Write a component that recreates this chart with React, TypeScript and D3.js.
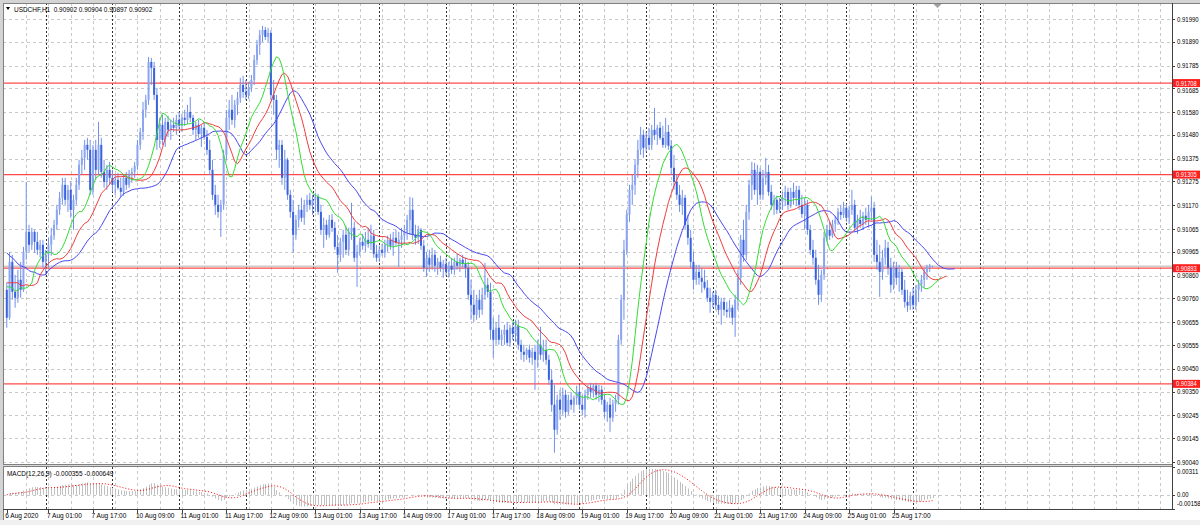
import React from 'react';
import * as d3 from 'd3';

// ---------- DATA (USDCHF H1, 6 Aug 2020 10:00 .. 26 Aug 2020 07:00) ----------
const opens = [
0.90798,0.90675,0.90921,0.90789,0.90763,0.90842,0.90798,0.90965,0.91053,0.90996,
0.91053,0.91009,0.90974,0.90996,0.90921,0.90952,0.90996,0.91036,0.91084,0.91150,
0.91203,0.91260,0.91194,0.91238,0.91150,0.91194,0.91260,0.91348,0.91379,0.91436,
0.91414,0.91238,0.91414,0.91326,0.91436,0.91317,0.91273,0.91326,0.91291,0.91260,
0.91282,0.91247,0.91229,0.91291,0.91260,0.91304,0.91317,0.91344,0.91436,0.91493,
0.91590,0.91634,0.91801,0.91775,0.91656,0.91458,0.91524,0.91458,0.91537,0.91502,
0.91524,0.91511,0.91546,0.91520,0.91555,0.91546,0.91581,0.91555,0.91502,0.91524,
0.91484,0.91511,0.91471,0.91414,0.91326,0.91216,0.91172,0.91141,0.91172,0.91392,
0.91555,0.91590,0.91546,0.91612,0.91643,0.91700,0.91669,0.91656,0.91687,0.91722,
0.91810,0.91876,0.91920,0.91942,0.91911,0.91929,0.91656,0.91634,0.91414,0.91436,
0.91291,0.91370,0.91216,0.91141,0.91040,0.91106,0.91150,0.91115,0.91172,0.91194,
0.91172,0.91194,0.91207,0.91141,0.91062,0.91084,0.91040,0.91106,0.91071,0.90987,
0.90952,0.91009,0.91040,0.90974,0.91053,0.91071,0.90939,0.90965,0.91009,0.90992,
0.91018,0.91000,0.91036,0.90956,0.90939,0.90974,0.90961,0.90996,0.91018,0.90992,
0.91027,0.91005,0.91018,0.91036,0.91053,0.91106,0.91150,0.91040,0.91027,0.91062,
0.90992,0.90895,0.90939,0.90908,0.90952,0.90904,0.90921,0.90895,0.90912,0.90877,
0.90904,0.90886,0.90921,0.90904,0.90930,0.90912,0.90895,0.90776,0.90732,0.90688,
0.90754,0.90710,0.90776,0.90820,0.90789,0.90622,0.90578,0.90631,0.90578,0.90600,
0.90622,0.90565,0.90631,0.90604,0.90640,0.90556,0.90525,0.90512,0.90534,0.90499,
0.90525,0.90490,0.90556,0.90512,0.90534,0.90490,0.90402,0.90292,0.90182,0.90314,
0.90270,0.90336,0.90261,0.90314,0.90292,0.90323,0.90349,0.90292,0.90270,0.90336,
0.90367,0.90349,0.90376,0.90336,0.90358,0.90314,0.90261,0.90292,0.90235,0.90296,
0.90314,0.90578,0.90754,0.90974,0.91128,0.91238,0.91260,0.91348,0.91414,0.91480,
0.91423,0.91467,0.91436,0.91502,0.91480,0.91511,0.91467,0.91436,0.91493,0.91432,
0.91335,0.91273,0.91216,0.91172,0.91203,0.91084,0.91027,0.90921,0.90842,0.90877,
0.90851,0.90833,0.90807,0.90763,0.90745,0.90776,0.90732,0.90710,0.90745,0.90710,
0.90701,0.90719,0.90675,0.90754,0.90851,0.91018,0.90952,0.91141,0.91260,0.91326,
0.91238,0.91317,0.91216,0.91291,0.91317,0.91229,0.91172,0.91194,0.91150,0.91185,
0.91203,0.91229,0.91172,0.91229,0.91203,0.91238,0.91172,0.91132,0.91172,0.91062,
0.90974,0.90939,0.90842,0.90776,0.90864,0.91027,0.91062,0.91036,0.91088,0.91106,
0.91141,0.91128,0.91159,0.91115,0.91150,0.91172,0.91071,0.91106,0.91088,0.91124,
0.91106,0.91141,0.91159,0.90952,0.90921,0.90877,0.90939,0.90983,0.90895,0.90820,
0.90895,0.90851,0.90877,0.90798,0.90745,0.90728,0.90772,0.90732,0.90798,0.90820,
0.90842,0.90877,0.90895,0.90902
];
const highs = [
0.90829,0.90965,0.90952,0.90864,0.90886,0.90921,0.90987,0.91273,0.91084,0.91071,
0.91062,0.91053,0.91018,0.91018,0.90974,0.91027,0.91071,0.91106,0.91172,0.91229,
0.91291,0.91291,0.91260,0.91273,0.91216,0.91291,0.91370,0.91414,0.91458,0.91467,
0.91458,0.91436,0.91458,0.91537,0.91467,0.91370,0.91348,0.91361,0.91326,0.91304,
0.91313,0.91291,0.91304,0.91317,0.91326,0.91335,0.91361,0.91458,0.91511,0.91625,
0.91656,0.91823,0.91819,0.91801,0.91687,0.91555,0.91568,0.91555,0.91564,0.91546,
0.91555,0.91568,0.91581,0.91572,0.91590,0.91612,0.91647,0.91568,0.91537,0.91546,
0.91524,0.91537,0.91502,0.91458,0.91370,0.91260,0.91216,0.91194,0.91414,0.91590,
0.91634,0.91656,0.91634,0.91669,0.91731,0.91740,0.91722,0.91713,0.91744,0.91832,
0.91898,0.91942,0.91960,0.91955,0.91951,0.91942,0.91722,0.91656,0.91458,0.91458,
0.91414,0.91379,0.91238,0.91194,0.91128,0.91172,0.91203,0.91194,0.91216,0.91225,
0.91216,0.91225,0.91220,0.91172,0.91115,0.91106,0.91128,0.91132,0.91097,0.91040,
0.91027,0.91062,0.91080,0.91071,0.91181,0.91097,0.90996,0.91027,0.91044,0.91053,
0.91071,0.91084,0.91062,0.90996,0.90992,0.91000,0.91018,0.91036,0.91044,0.91053,
0.91062,0.91053,0.91071,0.91084,0.91128,0.91207,0.91203,0.91084,0.91080,0.91071,
0.91018,0.90965,0.90974,0.90983,0.90974,0.90939,0.90948,0.90930,0.90939,0.90921,
0.90939,0.90939,0.90956,0.90939,0.90952,0.90939,0.90921,0.90842,0.90798,0.90776,
0.90798,0.90807,0.90917,0.90851,0.90829,0.90675,0.90657,0.90688,0.90622,0.90644,
0.90657,0.90644,0.90657,0.90666,0.90666,0.90578,0.90556,0.90543,0.90556,0.90543,
0.90556,0.90578,0.90635,0.90578,0.90578,0.90512,0.90446,0.90380,0.90336,0.90358,
0.90367,0.90358,0.90336,0.90349,0.90332,0.90376,0.90380,0.90336,0.90358,0.90380,
0.90389,0.90384,0.90389,0.90380,0.90376,0.90336,0.90305,0.90323,0.90314,0.90336,
0.90600,0.90776,0.91018,0.91150,0.91260,0.91304,0.91370,0.91458,0.91515,0.91502,
0.91493,0.91511,0.91524,0.91599,0.91524,0.91537,0.91520,0.91555,0.91524,0.91458,
0.91392,0.91304,0.91260,0.91238,0.91216,0.91128,0.91062,0.90965,0.90908,0.90908,
0.90895,0.90886,0.90842,0.90807,0.90789,0.90798,0.90772,0.90763,0.90763,0.90745,
0.90754,0.90732,0.90776,0.90886,0.91040,0.91106,0.91172,0.91282,0.91361,0.91357,
0.91348,0.91335,0.91326,0.91379,0.91348,0.91260,0.91216,0.91212,0.91203,0.91229,
0.91256,0.91247,0.91247,0.91269,0.91256,0.91256,0.91216,0.91203,0.91194,0.91084,
0.91018,0.90974,0.90908,0.90886,0.91053,0.91084,0.91097,0.91106,0.91124,0.91159,
0.91172,0.91185,0.91176,0.91168,0.91238,0.91194,0.91128,0.91150,0.91141,0.91159,
0.91172,0.91207,0.91185,0.91018,0.90996,0.90974,0.91018,0.91009,0.90939,0.90921,
0.90921,0.90908,0.90895,0.90842,0.90798,0.90789,0.90807,0.90820,0.90842,0.90864,
0.90895,0.90908,0.90912,0.90904
];
const lows = [
0.90631,0.90666,0.90754,0.90719,0.90741,0.90763,0.90789,0.90930,0.90965,0.90974,
0.90961,0.90952,0.90939,0.90895,0.90864,0.90895,0.90948,0.91018,0.91062,0.91128,
0.91172,0.91172,0.91141,0.91115,0.91062,0.91172,0.91238,0.91304,0.91326,0.91370,
0.91216,0.91216,0.91282,0.91304,0.91291,0.91247,0.91238,0.91260,0.91229,0.91216,
0.91238,0.91207,0.91212,0.91238,0.91247,0.91269,0.91291,0.91326,0.91414,0.91458,
0.91555,0.91612,0.91700,0.91634,0.91414,0.91423,0.91436,0.91427,0.91471,0.91458,
0.91493,0.91480,0.91502,0.91493,0.91520,0.91528,0.91537,0.91480,0.91458,0.91467,
0.91427,0.91458,0.91392,0.91304,0.91194,0.91128,0.91115,0.91031,0.91150,0.91370,
0.91502,0.91524,0.91511,0.91568,0.91621,0.91643,0.91634,0.91638,0.91669,0.91700,
0.91788,0.91832,0.91889,0.91898,0.91889,0.91634,0.91568,0.91370,0.91335,0.91260,
0.91238,0.91194,0.91115,0.90961,0.91018,0.91071,0.91097,0.91084,0.91141,0.91150,
0.91128,0.91141,0.91128,0.91040,0.90983,0.91018,0.91027,0.91053,0.90974,0.90873,
0.90921,0.90939,0.90952,0.90948,0.91018,0.90921,0.90811,0.90948,0.90974,0.90965,
0.90983,0.90974,0.90939,0.90921,0.90921,0.90948,0.90939,0.90965,0.90974,0.90948,
0.90992,0.90899,0.90983,0.91000,0.91018,0.91040,0.91018,0.90996,0.91000,0.90974,
0.90877,0.90855,0.90877,0.90886,0.90877,0.90864,0.90877,0.90851,0.90860,0.90851,
0.90868,0.90864,0.90886,0.90877,0.90895,0.90851,0.90754,0.90666,0.90657,0.90666,
0.90675,0.90688,0.90754,0.90763,0.90578,0.90499,0.90556,0.90556,0.90552,0.90556,
0.90552,0.90547,0.90578,0.90569,0.90534,0.90490,0.90481,0.90490,0.90477,0.90468,
0.90358,0.90455,0.90490,0.90481,0.90468,0.90380,0.90261,0.90081,0.90160,0.90226,
0.90248,0.90235,0.90248,0.90270,0.90257,0.90292,0.90270,0.90244,0.90235,0.90314,
0.90323,0.90323,0.90314,0.90305,0.90292,0.90235,0.90217,0.90173,0.90217,0.90261,
0.90292,0.90556,0.90666,0.90952,0.91097,0.91172,0.91216,0.91291,0.91392,0.91379,
0.91405,0.91414,0.91414,0.91458,0.91436,0.91458,0.91423,0.91423,0.91414,0.91304,
0.91238,0.91194,0.91141,0.91128,0.91062,0.90996,0.90895,0.90798,0.90820,0.90820,
0.90785,0.90798,0.90745,0.90697,0.90719,0.90710,0.90688,0.90644,0.90684,0.90675,
0.90675,0.90644,0.90591,0.90710,0.90820,0.90921,0.90930,0.91106,0.91194,0.91216,
0.91172,0.91194,0.91194,0.91260,0.91212,0.91150,0.91128,0.91132,0.91137,0.91150,
0.91168,0.91150,0.91159,0.91172,0.91168,0.91150,0.91115,0.91062,0.91040,0.90952,
0.90908,0.90820,0.90732,0.90745,0.90842,0.91009,0.91018,0.91027,0.91053,0.91084,
0.91106,0.91115,0.91097,0.91088,0.91128,0.91053,0.91044,0.91071,0.91062,0.91084,
0.91071,0.91106,0.90921,0.90886,0.90767,0.90842,0.90908,0.90864,0.90785,0.90798,
0.90820,0.90789,0.90776,0.90719,0.90701,0.90710,0.90710,0.90710,0.90745,0.90789,
0.90807,0.90842,0.90877,0.90897
];
const closes = [
0.90675,0.90921,0.90789,0.90763,0.90842,0.90798,0.90965,0.91053,0.90996,0.91053,
0.91009,0.90974,0.90996,0.90921,0.90952,0.90996,0.91036,0.91084,0.91150,0.91203,
0.91260,0.91194,0.91238,0.91150,0.91194,0.91260,0.91348,0.91379,0.91436,0.91414,
0.91238,0.91414,0.91326,0.91436,0.91317,0.91273,0.91326,0.91291,0.91260,0.91282,
0.91247,0.91229,0.91291,0.91260,0.91304,0.91317,0.91344,0.91436,0.91493,0.91590,
0.91634,0.91801,0.91775,0.91656,0.91458,0.91524,0.91458,0.91537,0.91502,0.91524,
0.91511,0.91546,0.91520,0.91555,0.91546,0.91581,0.91555,0.91502,0.91524,0.91484,
0.91511,0.91471,0.91414,0.91326,0.91216,0.91172,0.91141,0.91172,0.91392,0.91555,
0.91590,0.91546,0.91612,0.91643,0.91700,0.91669,0.91656,0.91687,0.91722,0.91810,
0.91876,0.91920,0.91942,0.91911,0.91929,0.91656,0.91634,0.91414,0.91436,0.91291,
0.91370,0.91216,0.91141,0.91040,0.91106,0.91150,0.91115,0.91172,0.91194,0.91172,
0.91194,0.91207,0.91141,0.91062,0.91084,0.91040,0.91106,0.91071,0.90987,0.90952,
0.91009,0.91040,0.90974,0.91053,0.91071,0.90939,0.90965,0.91009,0.90992,0.91018,
0.91000,0.91036,0.90956,0.90939,0.90974,0.90961,0.90996,0.91018,0.90992,0.91027,
0.91005,0.91018,0.91036,0.91053,0.91106,0.91150,0.91040,0.91027,0.91062,0.90992,
0.90895,0.90939,0.90908,0.90952,0.90904,0.90921,0.90895,0.90912,0.90877,0.90904,
0.90886,0.90921,0.90904,0.90930,0.90912,0.90895,0.90776,0.90732,0.90688,0.90754,
0.90710,0.90776,0.90820,0.90789,0.90622,0.90578,0.90631,0.90578,0.90600,0.90622,
0.90565,0.90631,0.90604,0.90640,0.90556,0.90525,0.90512,0.90534,0.90499,0.90525,
0.90490,0.90556,0.90512,0.90534,0.90490,0.90402,0.90292,0.90182,0.90314,0.90270,
0.90336,0.90261,0.90314,0.90292,0.90323,0.90349,0.90292,0.90270,0.90336,0.90367,
0.90349,0.90376,0.90336,0.90358,0.90314,0.90261,0.90292,0.90235,0.90296,0.90314,
0.90578,0.90754,0.90974,0.91128,0.91238,0.91260,0.91348,0.91414,0.91480,0.91423,
0.91467,0.91436,0.91502,0.91480,0.91511,0.91467,0.91436,0.91493,0.91432,0.91335,
0.91273,0.91216,0.91172,0.91203,0.91084,0.91027,0.90921,0.90842,0.90877,0.90851,
0.90833,0.90807,0.90763,0.90745,0.90776,0.90732,0.90710,0.90745,0.90710,0.90701,
0.90719,0.90675,0.90754,0.90851,0.91018,0.90952,0.91141,0.91260,0.91326,0.91238,
0.91317,0.91216,0.91291,0.91317,0.91229,0.91172,0.91194,0.91150,0.91185,0.91203,
0.91229,0.91172,0.91229,0.91203,0.91238,0.91172,0.91132,0.91172,0.91062,0.90974,
0.90939,0.90842,0.90776,0.90864,0.91027,0.91062,0.91036,0.91088,0.91106,0.91141,
0.91128,0.91159,0.91115,0.91150,0.91172,0.91071,0.91106,0.91088,0.91124,0.91106,
0.91141,0.91159,0.90952,0.90921,0.90877,0.90939,0.90983,0.90895,0.90820,0.90895,
0.90851,0.90877,0.90798,0.90745,0.90728,0.90772,0.90732,0.90798,0.90820,0.90842,
0.90877,0.90895,0.90904,0.90902
];

// Alligator values shown before the first visible bar (shifted lines)
const jawLead = [0.90961, 0.90948, 0.90939, 0.90926, 0.90912, 0.90904, 0.90899, 0.90895];
const teethLead = [0.90829, 0.90829, 0.90829, 0.90829, 0.90829];
const lipsLead = [0.90811, 0.90811, 0.90807];

const priceTicks = [0.91990, 0.91890, 0.91785, 0.91685, 0.91580, 0.91480, 0.91375, 0.91275, 0.91170, 0.91065,
  0.90965, 0.90860, 0.90760, 0.90655, 0.90555, 0.90450, 0.90350, 0.90245, 0.90145, 0.90040];
const priceTickLabels = ['0.91990', '0.91890', '0.91785', '0.91685', '0.91580', '0.91480', '0.91375', '0.91275', '0.91170', '0.91065',
  '0.90965', '0.90860', '0.90760', '0.90655', '0.90555', '0.90450', '0.90350', '0.90245', '0.90145', '0.90040'];
const levelLines = [0.91708, 0.91305, 0.90893, 0.90384];
const levelLabels = ['0.91708', '0.91305', '0.90893', '0.90384'];
const bidPrice = 0.90902;

const timeLabels = ['6 Aug 2020', '7 Aug 01:00', '7 Aug 17:00', '10 Aug 09:00', '11 Aug 01:00', '11 Aug 17:00', '12 Aug 09:00',
  '13 Aug 01:00', '13 Aug 17:00', '14 Aug 09:00', '17 Aug 01:00', '17 Aug 17:00', '18 Aug 09:00', '19 Aug 01:00',
  '19 Aug 17:00', '20 Aug 09:00', '21 Aug 01:00', '21 Aug 17:00', '24 Aug 09:00', '25 Aug 01:00', '25 Aug 17:00'];
const timeLabelBars = [0, 15, 31, 47, 63, 79, 95, 111, 127, 143, 159, 175, 191, 207, 223, 239, 255, 271, 287, 303, 319];
const daySeparatorBars = [14, 38, 62, 86, 110, 134, 158, 182, 206, 230, 254, 278, 302, 326, 350];

const macdTicks = [0.00311, 0, -0.00158];
const macdTickLabels = ['0.00311', '0.00', '-0.00158'];

// ---------- LAYOUT ----------
const W = 1200, H = 525;
const L = 3, R = 1172, T = 3, MB = 464, MT = 467, BB = 509;
const FONT = '"Liberation Sans", Arial, sans-serif';

function smma(src: number[], n: number, lead: number[]) {
  let prev = lead[lead.length - 1];
  return src.map(v => (prev = (prev * (n - 1) + v) / n));
}
function ema(src: number[], n: number) {
  const a = 2 / (n + 1);
  let p = src[0];
  return src.map(v => (p = p + a * (v - p)));
}

function Txt({ x, y, children, sx = 0.86, size = 7.5, fill = '#000' }: any) {
  return (
    <text transform={`translate(${x},${y}) scale(${sx},1)`} fontSize={size} fontFamily={FONT} fill={fill}
      style={{ whiteSpace: 'pre' }}>{children}</text>
  );
}

export default function App() {
  const x = d3.scaleLinear().domain([0, 100]).range([6.78, 6.78 + 278]);
  const y = d3.scaleLinear().domain([0.90040, 0.91990]).range([462, 19]);
  const ym = d3.scaleLinear().domain([-0.00158, 0.00311]).range([BB, MT]);

  const median = highs.map((h, i) => (h + lows[i]) / 2);
  const jaw = jawLead.concat(smma(median, 13, jawLead));
  const teeth = teethLead.concat(smma(median, 8, teethLead));
  const lips = lipsLead.concat(smma(median, 5, lipsLead));

  const e12 = ema(closes, 12), e26 = ema(closes, 26);
  const macd = e12.map((v, i) => v - e26[i]);
  const signal = macd.map((_, i) => d3.mean(macd.slice(Math.max(0, i - 8), i + 1)) as number);

  const line = d3.line<number>().x((_, i) => x(i)).y(v => y(v));
  const sigLine = d3.line<number>().x((_, i) => x(i)).y(v => ym(v));

  const grayBars: number[] = [];
  for (let b = 7; x(b) < R; b += 8) grayBars.push(b);

  const px = (v: number) => Math.round(v) + 0.5;

  // push a tick label just clear of a level-line box that sits right on top of it
  const tickLabelY = (v: number) => {
    let ty = y(v) + 2.6;
    levelLines.forEach(lv => {
      const d = y(v) - y(lv);
      if (d > 0 && d < 6.5) ty = y(lv) + 4 + 6.2;
      if (d <= 0 && d > -6.5) ty = y(lv) - 4.3;
    });
    return ty;
  };

  return (
    <svg width={W} height={H} style={{ position: 'absolute', left: 0, top: 0, background: '#fff' }}>
      <defs>
        <clipPath id="mainClip"><rect x={L} y={T} width={R - L} height={MB - T} /></clipPath>
        <clipPath id="macdClip"><rect x={L} y={MT} width={R - L} height={BB - MT} /></clipPath>
      </defs>
      <rect x={0} y={0} width={W} height={H} fill="#fff" />
      <rect x={0} y={0} width={W} height={T} fill="#d4d4d4" />
      <rect x={0} y={0} width={L} height={H} fill="#d4d4d4" />
      <rect x={0} y={520} width={W} height={5} fill="#f0f0f0" />

      {/* grid */}
      <g shapeRendering="crispEdges">
        {priceTicks.map((v, i) => (
          <line key={'hg' + i} x1={L} x2={R} y1={px(y(v))} y2={px(y(v))} stroke="#c8c8c8" strokeDasharray="3,3" />
        ))}
        <line x1={L} x2={R} y1={px(ym(0))} y2={px(ym(0))} stroke="#c8c8c8" strokeDasharray="3,3" />
        {grayBars.map(b => (
          <line key={'vg' + b} x1={px(x(b))} x2={px(x(b))} y1={T} y2={BB} stroke="#c8c8c8" strokeDasharray="3,3" />
        ))}
        {daySeparatorBars.map(b => (
          <line key={'ds' + b} x1={px(x(b))} x2={px(x(b))} y1={T} y2={BB} stroke="#303030" strokeDasharray="2,2" />
        ))}
      </g>

      {/* level lines */}
      <g clipPath="url(#mainClip)">
        <line x1={L} x2={R} y1={y(bidPrice)} y2={y(bidPrice)} stroke="#b4b4b4" strokeWidth={1} />
        {levelLines.map((v, i) => (
          <line key={'lv' + i} x1={L} x2={R} y1={y(v)} y2={y(v)} stroke="#ff4a4a" strokeWidth={1.2} />
        ))}
      </g>

      {/* candles */}
      <g clipPath="url(#mainClip)">
        {closes.map((c, i) => {
          const o = opens[i];
          const xc = x(i);
          const top = y(Math.max(o, c)), bot = y(Math.min(o, c));
          const bear = c < o;
          return (
            <g key={'c' + i}>
              <line x1={xc} x2={xc} y1={y(highs[i])} y2={y(lows[i])} stroke="#7190ea" strokeWidth={1} />
              <rect x={xc - 1} y={top} width={2} height={Math.max(0.8, bot - top)} fill={bear ? '#3a62dc' : '#8ca5f0'} />
            </g>
          );
        })}
        <path d={line(jaw) || ''} fill="none" stroke="#4848f0" strokeWidth={1} />
        <path d={line(teeth) || ''} fill="none" stroke="#f03c3c" strokeWidth={1} />
        <path d={line(lips) || ''} fill="none" stroke="#34dc34" strokeWidth={1} />
      </g>

      {/* MACD */}
      <g clipPath="url(#macdClip)">
        {macd.map((v, i) => (
          <line key={'m' + i} x1={px(x(i))} x2={px(x(i))} y1={ym(0)} y2={ym(v)} stroke="#c0c0c0" strokeWidth={1} />
        ))}
        <path d={sigLine(signal) || ''} fill="none" stroke="#ff0000" strokeWidth={1} strokeDasharray="1,2" />
      </g>

      {/* frames */}
      <g shapeRendering="crispEdges">
        <line x1={L} x2={W} y1={T + 0.5} y2={T + 0.5} stroke="#808080" />
        <line x1={L + 0.5} x2={L + 0.5} y1={T} y2={520} stroke="#808080" />
        <rect x={L} y={MB} width={R - L} height={MT - MB} fill="#d8d8d8" />
        <line x1={L} x2={R} y1={MB + 0.5} y2={MB + 0.5} stroke="#808080" />
        <line x1={L} x2={R} y1={MT - 0.5} y2={MT - 0.5} stroke="#808080" />
        <line x1={R + 0.5} x2={R + 0.5} y1={T} y2={BB + 1} stroke="#404040" />
        <line x1={L} x2={R + 1} y1={BB + 0.5} y2={BB + 0.5} stroke="#404040" />
      </g>

      {/* price axis */}
      {priceTicks.map((v, i) => (
        <g key={'pt' + i}>
          <line x1={R} x2={R + 3} y1={px(y(v))} y2={px(y(v))} stroke="#404040" shapeRendering="crispEdges" />
          <Txt x={R + 5} y={tickLabelY(v)} sx={0.8}>{priceTickLabels[i]}</Txt>
        </g>
      ))}
      {levelLines.map((v, i) => (
        <g key={'ll' + i}>
          <rect x={R + 1} y={y(v) - 4} width={W - R - 1} height={8} fill="#ff1e1e" />
          <Txt x={R + 4} y={y(v) + 2.5} sx={0.8} size={7.2} fill="#fff">{levelLabels[i]}</Txt>
        </g>
      ))}
      {macdTicks.map((v, i) => (
        <g key={'mt' + i}>
          <line x1={R} x2={R + 3} y1={px(ym(v))} y2={px(ym(v))} stroke="#404040" shapeRendering="crispEdges" />
          <Txt x={R + 5} y={Math.min(BB - 3.5, Math.max(MT + 6.5, ym(v) + 2.6))} sx={0.8}>{macdTickLabels[i]}</Txt>
        </g>
      ))}

      {/* time axis */}
      {timeLabelBars.map((b, i) => (
        <g key={'tl' + i}>
          <line x1={px(x(b))} x2={px(x(b))} y1={BB} y2={BB + 4} stroke="#404040" shapeRendering="crispEdges" />
          <Txt x={x(b) - 1.5} y={518} size={7.8} sx={0.84}>{timeLabels[i]}</Txt>
        </g>
      ))}

      {/* headers */}
      <path d="M6,7 L10,7 L8,10 Z" fill="#000" />
      <Txt x={14} y={11.5}>{'USDCHF,H1  0.90902 0.90904 0.90897 0.90902'}</Txt>
      <Txt x={7} y={476}>{'MACD(12,26,9) -0.000355 -0.000649'}</Txt>
      <path d={`M${x(333) + 1},${T + 1} L${x(333) + 9},${T + 1} L${x(333) + 5},${T + 5} Z`} fill="#a0a0a0" />
    </svg>
  );
}
